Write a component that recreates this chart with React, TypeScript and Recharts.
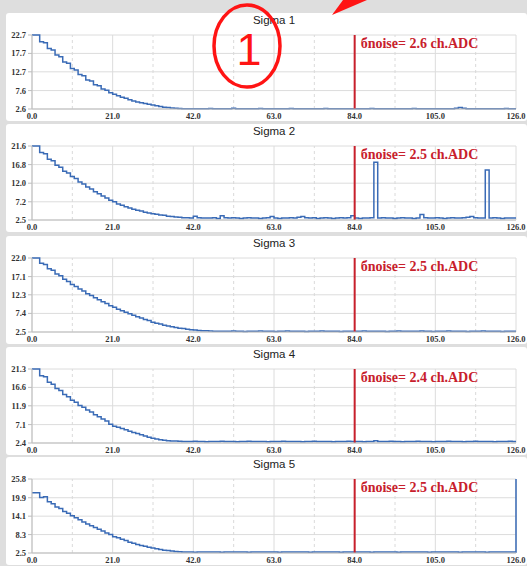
import { CartesianGrid, Line, LineChart, ReferenceLine, XAxis, YAxis } from "recharts";

// channel numbers on the x axis (0..126)
const channels = Array.from({ length: 127 }, (_, i) => i);
const xTicks = [0, 21, 42, 63, 84, 105, 126];
const xMinorTicks = [10.5, 31.5, 52.5, 73.5, 94.5, 115.5];
const cutChannel = 84;

const titles = ["Sigma 1", "Sigma 2", "Sigma 3", "Sigma 4", "Sigma 5"];
const noiseValues = ["2.6", "2.5", "2.5", "2.4", "2.5"];

const yTicks1 = [2.6, 7.6, 12.7, 17.7, 22.7];
const yTicks2 = [2.5, 7.2, 12.0, 16.8, 21.6];
const yTicks3 = [2.5, 7.4, 12.3, 17.1, 22.0];
const yTicks4 = [2.4, 7.1, 11.9, 16.6, 21.3];
const yTicks5 = [2.5, 8.3, 14.1, 19.9, 25.8];

const sigma1 = [
  22.7, 22.7, 20.9, 20.6, 19.0, 18.6, 17.3, 16.8, 15.4, 15.0,
  13.6, 13.2, 12.0, 11.6, 10.5, 10.2, 9.2, 8.9, 8.0, 7.7,
  7.0, 6.6, 6.2, 5.8, 5.5, 5.1, 4.8, 4.5, 4.3, 4.1,
  3.9, 3.7, 3.5, 3.3, 3.1, 3.0, 2.9, 2.8, 2.75, 2.7,
  2.7,
  2.7, 2.7, 2.65, 2.7, 2.7, 2.75, 2.7, 2.7, 2.65, 2.7,
  2.7, 2.8, 2.7, 2.7, 2.7, 2.65, 2.7, 2.7, 2.75, 2.7,
  2.7, 2.7, 2.65, 2.7, 2.7, 2.7, 2.75, 2.7, 2.7, 2.7,
  2.65, 2.7, 2.7, 2.7, 2.7, 2.75, 2.7, 2.7, 2.7, 2.7,
  2.7, 2.7, 2.65, 2.7, 2.7, 2.7, 2.7, 2.75, 2.7, 2.7,
  2.7, 2.7, 2.65, 2.7, 2.7, 2.7, 2.7, 2.7, 2.75, 2.7,
  2.7, 2.7, 2.7, 2.65, 2.7, 2.7, 2.7, 2.7, 2.7, 2.8,
  3.0, 2.8, 2.7, 2.7, 2.7, 2.65, 2.7, 2.7, 2.7, 2.7,
  2.7, 2.7, 2.75, 2.7, 2.7, 2.7,
];

const sigma2 = [
  21.6, 21.6, 19.9, 19.6, 18.2, 17.8, 16.6, 16.1, 15.1, 14.6,
  13.7, 13.2, 12.3, 11.8, 11.0, 10.5, 9.8, 9.3, 8.7, 8.2,
  7.6, 7.2, 6.6, 6.3, 5.9, 5.6, 5.3, 5.0, 4.8, 4.5,
  4.3, 4.1, 4.0, 3.8, 3.7, 3.5, 3.4, 3.3, 3.2, 3.1,
  3.1, 3.0, 3.5, 3.1, 3.0, 3.0,
  3.0, 3.1, 2.9, 3.6, 3.1, 3.0, 3.1, 3.0, 2.9, 3.0,
  3.1, 3.0, 3.0, 2.9, 3.0, 3.1, 3.4, 3.0, 2.9, 3.0,
  3.0, 3.1, 3.0, 3.2, 3.4, 3.1, 3.0, 3.1, 2.9, 3.0,
  3.1, 3.0, 2.9, 3.0, 3.1, 3.0, 3.1, 3.6, 3.0, 2.9,
  3.0, 3.0, 3.1, 17.4, 3.0, 3.1, 3.0, 3.0, 2.9, 3.0,
  3.1, 3.0, 3.0, 2.9, 3.0, 3.9, 3.1, 3.0, 3.0, 3.1,
  3.0, 2.9, 3.0, 3.1, 3.0, 3.0, 3.1, 3.2, 3.4, 3.1,
  3.0, 3.0, 15.4, 3.0, 3.1, 3.0, 2.9, 3.0, 3.0, 3.0, 3.0,
];

const sigma3 = [
  22.0, 22.0, 20.6, 20.3, 19.2, 18.8, 17.8, 17.3, 16.4, 15.8,
  15.0, 14.5, 13.8, 13.3, 12.6, 12.1, 11.5, 11.0, 10.5, 10.0,
  9.4, 9.0, 8.5, 8.1, 7.7, 7.3, 6.9, 6.5, 6.2, 5.8,
  5.5, 5.1, 4.8, 4.6, 4.3, 4.1, 3.9, 3.7, 3.5, 3.4,
  3.2, 3.1, 3.0, 2.9, 2.8, 2.8, 2.75, 2.7, 2.7, 2.7,
  2.7, 2.7, 2.75, 2.7, 2.7, 2.65, 2.7, 2.7, 2.7, 2.75,
  2.7, 2.7, 2.7, 2.65, 2.7, 2.7, 2.75, 2.7, 2.7, 2.7,
  2.7, 2.65, 2.7, 2.7, 2.7, 2.75, 2.7, 2.7, 2.7, 2.7,
  2.65, 2.7, 2.7, 2.7, 2.7, 2.7, 2.75, 2.7, 2.7, 2.7,
  2.7, 2.7, 2.65, 2.7, 2.7, 2.75, 2.7, 2.7, 2.7, 2.7,
  2.7, 2.75, 2.7, 2.7, 2.65, 2.7, 2.7, 2.7, 2.75, 2.7,
  2.7, 2.7, 2.7, 2.65, 2.7, 2.7, 2.7, 2.75, 2.7, 2.7,
  2.7, 2.7, 2.65, 2.7, 2.7, 2.7, 2.7,
];

const sigma4 = [
  21.3, 21.3, 19.6, 19.3, 17.9, 17.4, 16.3, 15.8, 14.8, 14.2,
  13.3, 12.8, 12.0, 11.5, 10.8, 10.3, 9.6, 9.1, 8.5, 8.0,
  7.2, 6.7, 6.4, 6.1, 5.8, 5.4, 5.1, 4.8, 4.5, 4.2,
  3.9, 3.6, 3.4, 3.2, 3.1, 3.0, 2.9, 2.9, 2.85, 2.8,
  2.8, 2.8, 2.85, 2.8, 2.8, 2.75, 2.8, 2.8, 2.8, 2.85,
  2.8, 2.8, 2.8, 2.75, 2.8, 2.8, 2.85, 2.8, 2.8, 2.8,
  2.8, 2.75, 2.8, 2.8, 2.8, 2.85, 2.8, 2.8, 2.8, 2.8,
  2.75, 2.8, 2.8, 2.85, 2.8, 2.8, 2.8, 2.8, 2.75, 2.8,
  2.8, 2.8, 2.85, 2.8, 2.8, 2.8, 2.75, 2.8, 2.8, 3.0,
  2.8, 2.8, 2.8, 2.85, 2.8, 2.8, 2.75, 2.8, 2.8, 2.8,
  2.85, 2.8, 2.8, 2.8, 2.75, 2.8, 2.8, 2.8, 2.85, 2.8,
  2.8, 2.8, 2.75, 2.8, 2.8, 2.85, 2.8, 2.8, 2.8, 2.8,
  2.75, 2.8, 2.8, 2.8, 2.85, 2.8, 2.8,
];

const sigma5 = [
  21.5, 21.5, 20.0, 20.2, 18.6, 18.0, 17.0, 16.5, 15.6, 15.0,
  14.2, 13.6, 13.0, 12.3, 11.6, 11.1, 10.5, 10.0, 9.4, 8.8,
  8.3, 7.6, 7.3, 6.8, 6.4, 5.9, 5.6, 5.2, 4.9, 4.6,
  4.3, 4.1, 3.8, 3.6, 3.4, 3.3, 3.1, 3.0, 2.9, 2.85,
  2.8, 2.8, 2.75, 2.8, 2.8, 2.8, 2.85, 2.8, 2.8, 2.75,
  2.8, 2.8, 2.8, 2.85, 2.8, 2.8, 2.75, 2.8, 2.8, 2.8,
  2.8, 2.85, 2.8, 2.8, 2.75, 2.8, 2.8, 2.8, 2.8, 2.85,
  2.8, 2.8, 2.75, 2.8, 2.8, 2.8, 2.85, 2.8, 2.8, 2.8,
  2.75, 2.8, 2.8, 2.8, 2.85, 2.8, 2.8, 2.8, 2.75, 2.8,
  2.8, 2.8, 2.85, 2.8, 2.8, 2.75, 2.8, 2.8, 2.8, 2.8,
  2.85, 2.8, 2.8, 2.75, 2.8, 2.8, 2.8, 2.85, 2.8, 2.8,
  2.8, 2.75, 2.8, 2.8, 2.8, 2.85, 2.8, 2.8, 2.75, 2.8,
  2.8, 2.8, 2.85, 2.8, 2.8, 2.8, 25.8,
];

const seriesList = [sigma1, sigma2, sigma3, sigma4, sigma5];
const tickList = [yTicks1, yTicks2, yTicks3, yTicks4, yTicks5];

const W = 527;
const H = 566;
const PANEL_LEFT = 6;
const PANEL_W = W - PANEL_LEFT;
const PANEL_H = 108;
// chart svg runs a few px past the white card so the x labels aren't clipped
const CHART_EXTRA = 5;
const panelTops = [13, 124, 236, 347, 457];

const tickFont = {
  fontFamily: "'Liberation Serif', 'Times New Roman', serif",
  fontSize: 8.5,
  fontWeight: 700,
  fill: "#333",
};

function Panel({ idx }: { idx: number }) {
  const values = seriesList[idx];
  const yTicks = tickList[idx];
  const data = channels.map((ch, i) => ({ ch, v: values[i] }));
  const label = `бnoise= ${noiseValues[idx]} ch.ADC`;

  return (
    <div
      style={{
        position: "absolute",
        left: PANEL_LEFT,
        top: panelTops[idx],
        width: PANEL_W,
        height: PANEL_H,
        background: "#fff",
        borderRadius: 3,
      }}
    >
      <div
        style={{
          position: "absolute",
          left: 26,
          width: 484,
          top: 1,
          textAlign: "center",
          font: "11.5px 'Liberation Sans', Arial, sans-serif",
          color: "#222",
        }}
      >
        {titles[idx]}
      </div>
      <LineChart
        width={PANEL_W}
        height={PANEL_H + CHART_EXTRA}
        data={data}
        margin={{ top: 22, right: 11, bottom: CHART_EXTRA, left: 0 }}
        style={{ overflow: "visible" }}
      >
        <CartesianGrid stroke="#dcdcdc" />
        {xMinorTicks.map((t) => (
          <ReferenceLine key={t} x={t} stroke="#dadada" strokeDasharray="3 3" />
        ))}
        <XAxis
          dataKey="ch"
          type="number"
          domain={[0, 126]}
          ticks={xTicks}
          interval={0}
          tickFormatter={(v: number) => v.toFixed(1)}
          height={12}
          tickLine={false}
          tickSize={3}
          tickMargin={1}
          axisLine={{ stroke: "#bdbdbd" }}
          tick={tickFont}
        />
        <YAxis
          type="number"
          domain={[yTicks[0], yTicks[yTicks.length - 1]]}
          ticks={yTicks}
          interval={0}
          tickFormatter={(v: number) => v.toFixed(1)}
          width={26}
          tickSize={4}
          tickMargin={2}
          tickLine={{ stroke: "#bdbdbd" }}
          axisLine={{ stroke: "#bdbdbd" }}
          tick={tickFont}
        />
        <Line
          type="stepAfter"
          dataKey="v"
          stroke="#3a6bb6"
          strokeWidth={1.5}
          dot={false}
          isAnimationActive={false}
        />
        <ReferenceLine
          x={cutChannel}
          stroke="#c8202c"
          strokeWidth={2}
          label={(props: any) => (
            <text
              x={props.viewBox.x + 6}
              y={props.viewBox.y + 13}
              fill="#c8202c"
              fontFamily="'Liberation Serif', 'Times New Roman', serif"
              fontWeight={700}
              fontSize={14}
            >
              {label}
            </text>
          )}
        />
      </LineChart>
    </div>
  );
}

export default function App() {
  return (
    <div
      style={{
        position: "absolute",
        left: 0,
        top: 0,
        width: W,
        height: H,
        background: "#dedede",
        overflow: "hidden",
      }}
    >
      {titles.map((_, i) => (
        <Panel key={i} idx={i} />
      ))}
      {/* callout marker drawn on top of the first panel */}
      <svg
        width={W}
        height={H}
        style={{ position: "absolute", left: 0, top: 0, pointerEvents: "none" }}
      >
        <ellipse cx={247} cy={46} rx={33} ry={41} fill="none" stroke="#ff1414" strokeWidth={3.5} />
        <text
          x={249}
          y={65}
          textAnchor="middle"
          fill="#ff1414"
          fontFamily="'Liberation Sans', Arial, sans-serif"
          fontSize={45}
        >
          1
        </text>
        <polygon points="332,15 343,0 367,0" fill="#ff1414" />
      </svg>
    </div>
  );
}
